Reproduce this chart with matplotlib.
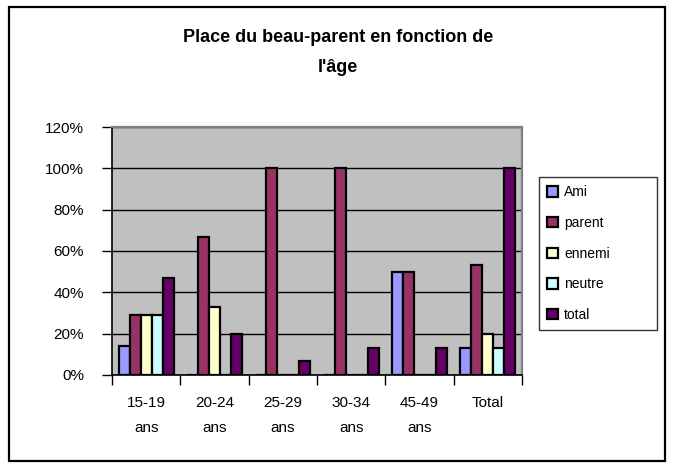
import numpy as np
import matplotlib
matplotlib.use("Agg")
import matplotlib.pyplot as plt
from matplotlib.patches import Rectangle
from matplotlib.ticker import FuncFormatter

plt.rcParams['font.family'] = ['Liberation Sans', 'DejaVu Sans']

# data (percent)
categories = ["15-19\nans", "20-24\nans", "25-29\nans", "30-34\nans", "45-49\nans", "Total"]
series_names = ["Ami", "parent", "ennemi", "neutre", "total"]
ami = [14, 0, 0, 0, 50, 13]
parent = [29, 67, 100, 100, 50, 53]
ennemi = [29, 33, 0, 0, 0, 20]
neutre = [29, 0, 0, 0, 0, 13]
total = [47, 20, 7, 13, 13, 100]
colors = ["#9999FF", "#993366", "#FFFFCC", "#CCFFFF", "#660066"]

fig = plt.figure(figsize=(6.76, 4.69), dpi=100)

# outer chart frame
fig.patches.append(Rectangle((9 / 676, 1 - 461 / 469), 656 / 676, 454 / 469,
                             transform=fig.transFigure, fill=False,
                             edgecolor="black", linewidth=1.6))

ax = fig.add_axes([112 / 676, 1 - 375 / 469, 410 / 676, 248 / 469])
ax.set_facecolor("#C0C0C0")

x = np.arange(len(categories)) + 0.5
w = 0.16
for k, (name, vals) in enumerate(zip(series_names, [ami, parent, ennemi, neutre, total])):
    ax.bar(x - 0.4 + w / 2 + k * w, vals, width=w, color=colors[k],
           edgecolor="black", linewidth=1.6, label=name, zorder=3)

ax.set_xlim(0, len(categories))
ax.set_ylim(0, 120)
ax.set_yticks(range(0, 121, 20))
ax.yaxis.set_major_formatter(FuncFormatter(lambda v, p: f"{int(v)}%"))
ax.yaxis.grid(True, color="black", linewidth=1.0, zorder=1)
ax.set_axisbelow(True)

ax.set_xticks(range(len(categories) + 1))
ax.set_xticklabels([])
ax.set_xticks(x, minor=True)
ax.set_xticklabels(categories, minor=True, linespacing=2.0)
ax.tick_params(axis="x", which="minor", length=0, pad=15, labelsize=11)
ax.tick_params(axis="x", which="major", length=7, width=1, direction="out")
ax.tick_params(axis="y", length=7, width=1, direction="out", pad=13, labelsize=11)

for s in ["left", "bottom"]:
    ax.spines[s].set_color("black")
    ax.spines[s].set_linewidth(1.2)
for s in ["top", "right"]:
    ax.spines[s].set_color("#808080")
    ax.spines[s].set_linewidth(1.6)

fig.text(338 / 676, 1 - 37 / 469, "Place du beau-parent en fonction de",
         ha="center", va="center", fontsize=13, fontweight="bold")
fig.text(338 / 676, 1 - 67 / 469, "l'âge",
         ha="center", va="center", fontsize=13, fontweight="bold")

leg = ax.legend(loc="upper left",
                bbox_to_anchor=(539 / 676, 1 - 329 / 469, 118 / 676, 152 / 469),
                bbox_transform=fig.transFigure, mode="expand",
                fontsize=10, frameon=True,
                fancybox=False, edgecolor="black", labelspacing=1.2,
                handlelength=0.8, handleheight=0.8, handletextpad=0.4,
                borderpad=0.6, borderaxespad=0)
leg.get_frame().set_linewidth(1.0)

fig.savefig("out.png", dpi=100)
